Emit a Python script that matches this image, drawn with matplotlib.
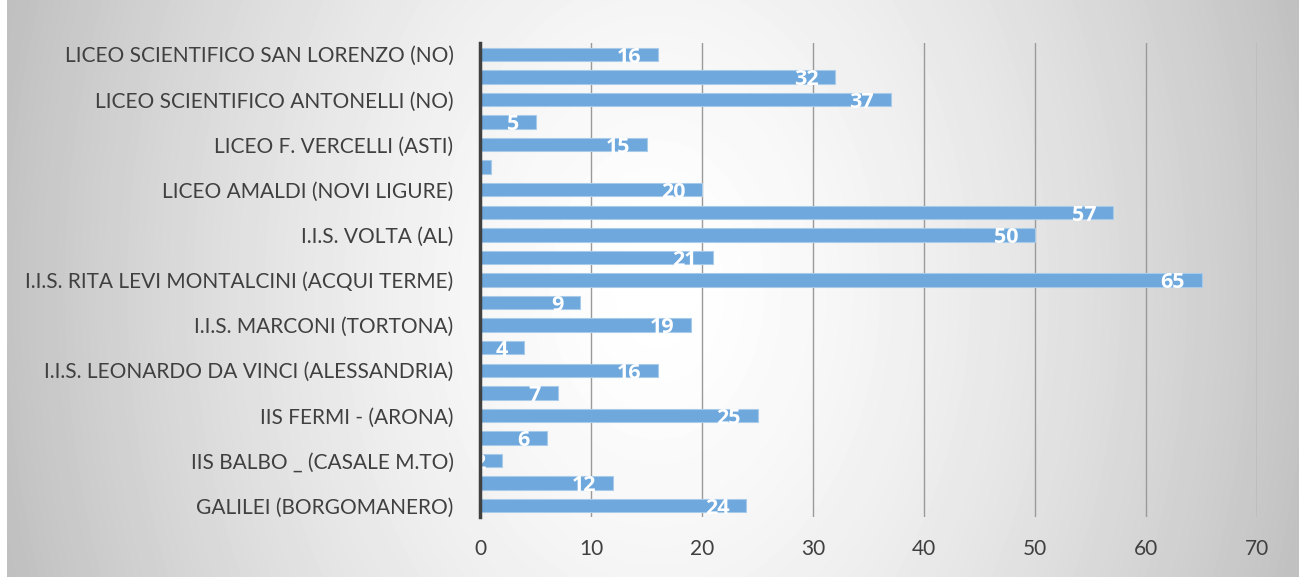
import numpy as np
import matplotlib.pyplot as plt

# --- data (bottom to top, as Excel draws it) ---
schools = [
    "GALILEI (BORGOMANERO)", "",
    "IIS BALBO _ (CASALE M.TO)", "",
    "IIS FERMI - (ARONA)", "",
    "I.I.S. LEONARDO DA VINCI (ALESSANDRIA)", "",
    "I.I.S. MARCONI (TORTONA)", "",
    "I.I.S. RITA LEVI MONTALCINI (ACQUI TERME)", "",
    "I.I.S. VOLTA (AL)", "",
    "LICEO AMALDI (NOVI LIGURE)", "",
    "LICEO F. VERCELLI (ASTI)", "",
    "LICEO SCIENTIFICO ANTONELLI (NO)", "",
    "LICEO SCIENTIFICO SAN LORENZO (NO)",
]
students = [24, 12, 2, 6, 25, 7, 16, 4, 19, 9, 65, 21, 50, 57, 20, 1, 15, 5, 37, 32, 16]
x_ticks = [0, 10, 20, 30, 40, 50, 60, 70]

W, H, DPI = 1302, 579, 100
bar_color = "#6fa8dc"
text_color = "#404040"
plt.rcParams['font.family'] = ['Lato', 'DejaVu Sans']

fig = plt.figure(figsize=(W / DPI, H / DPI), dpi=DPI, facecolor="white")

# background: soft grey gradient, white in the middle, darker to the sides
bg = fig.add_axes([7 / W, 2 / H, 1292 / W, 577 / H], zorder=0)
yy, xx = np.mgrid[0:577, 0:1292]
d = np.sqrt(((xx - 650) / 680.0) ** 2 + ((yy - 290) / 950.0) ** 2)
grey = 1 - 0.25 * np.clip(d, 0, 1) ** 1.5
bg.imshow(grey, cmap="gray", vmin=0, vmax=1, aspect="auto", interpolation="bilinear")
bg.axis("off")

ax = fig.add_axes([480 / W, 1 - 517 / H, 777 / W, 474 / H], zorder=1)
ax.patch.set_alpha(0)

pos = np.arange(len(students))
bars = ax.barh(pos, students, height=0.6, color=bar_color,
               edgecolor="#a9cbea", linewidth=0.8, zorder=3)

for p, v in zip(pos, students):
    ax.annotate(str(v), (v, p), xytext=(-12, -2), textcoords="offset points",
                ha="right", va="center", color="white", fontsize=15.5,
                fontweight="bold", family=["Open Sans", "DejaVu Sans"],
                zorder=4, annotation_clip=False, clip_on=True)

ax.set_xlim(0, 70)
ax.set_ylim(-0.5, len(students) - 0.5)
ax.set_xticks(x_ticks)
ax.set_yticks(pos)
ax.set_yticklabels(schools)
ax.tick_params(axis="both", length=0, labelcolor=text_color, labelsize=15)
ax.tick_params(axis="y", pad=19)
ax.tick_params(axis="x", pad=16)

ax.grid(axis="x", color="#9a9a9a", linewidth=1.0, zorder=1)
ax.set_axisbelow(True)
for side in ["top", "right", "bottom"]:
    ax.spines[side].set_visible(False)
ax.spines["left"].set_color("#404040")
ax.spines["left"].set_linewidth(2.5)
ax.spines["left"].set_zorder(5)

fig.savefig("out.png", dpi=DPI)
